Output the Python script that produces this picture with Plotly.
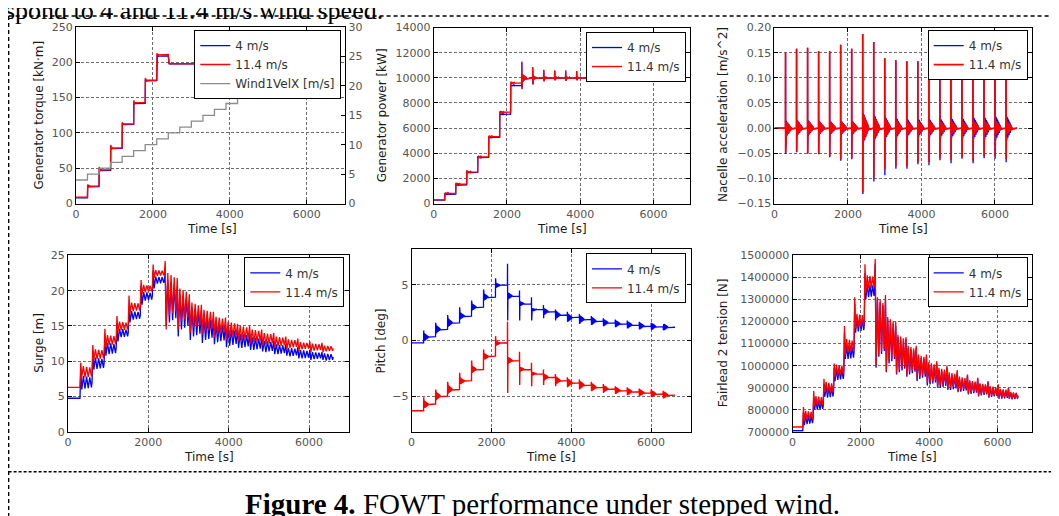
import plotly.graph_objects as go

W, H = 1059, 516

# ---- data ------------------------------------------------------------------
STEP_TIMES = [0, 300, 600, 900, 1200, 1500, 1800, 2100, 2400, 2700, 3000,
              3300, 3600, 3900, 4200, 4500, 4800, 5100, 5400, 5700, 6000, 6300]
T_END = 6600

WIND_SPEED = [4, 5, 6, 7, 8, 9, 10, 11, 12, 13, 14, 15, 16, 17, 18, 19, 20,
              21, 22, 23, 24, 25]

# generator torque [kN m]
TORQUE_4_LEVEL = [8, 24, 47, 78, 112, 142, 174, 209, 198, 198, 198, 198, 198,
                  198, 198, 198, 198, 198, 198, 198, 198, 198]
TORQUE_4_PEAK = [8, 26, 50, 81, 114, 144, 176, 210, 199, 198, 198, 198, 198,
                 198, 198, 198, 198, 198, 198, 198, 198, 198]
TORQUE_4_AMP = [0, 1, 1, 1, 1, 1, 1, 1, 0.5, 0, 0, 0, 0, 0, 0, 0, 0, 0, 0, 0, 0, 0]
TORQUE_11_LEVEL = [9, 25, 48, 79, 113, 143, 175, 211, 198, 198, 198, 198, 198,
                   198, 198, 198, 198, 198, 198, 198, 198, 198]
TORQUE_11_PEAK = [9, 27, 52, 83, 115, 146, 178, 213, 199, 198, 198, 198, 198,
                  198, 198, 198, 198, 198, 198, 198, 198, 198]
TORQUE_11_AMP = [0, 2, 2, 2, 1.5, 1.5, 1.5, 1.5, 0.5, 0, 0, 0, 0, 0, 0, 0, 0, 0,
                 0, 0, 0, 0]

# generator power [kW]
POWER_4_LEVEL = [266, 745, 1490, 2475, 3670, 5270, 7107, 9396, 10000, 10000,
                 10000, 10000, 10000, 10000, 10000, 10000, 10000, 10000, 10000,
                 10000, 10000, 10000]
POWER_4_PEAK = [266, 800, 1580, 2580, 3740, 5330, 7200, 9450, 11200, 10750,
                10600, 10550, 10500, 10500, 10450, 10450, 10400, 10400, 10400,
                10400, 10400, 10400]
POWER_4_TROUGH = [266, 745, 1490, 2475, 3670, 5270, 7107, 9396, 9150, 9500,
                  9750, 9800, 9750, 9800, 9850, 9850, 9850, 9850, 9850, 9850,
                  9850, 9850]
POWER_4_AMP = [0, 40, 50, 60, 50, 50, 60, 60, 300, 150, 120, 100, 100, 80, 80,
               60, 60, 60, 60, 60, 60, 60]
POWER_11_LEVEL = [290, 810, 1560, 2520, 3720, 5330, 7280, 9600, 10000, 10000,
                  10000, 10000, 10000, 10000, 10000, 10000, 10000, 10000, 10000,
                  10000, 10000, 10000]
POWER_11_PEAK = [290, 850, 1650, 2650, 3780, 5400, 7350, 9700, 11300, 10850,
                 10650, 10600, 10600, 10550, 10500, 10500, 10450, 10450, 10450,
                 10450, 10450, 10450]
POWER_11_TROUGH = [290, 810, 1560, 2520, 3720, 5330, 7280, 9600, 9100, 9450,
                   9700, 9800, 9750, 9800, 9850, 9850, 9850, 9850, 9850, 9850,
                   9850, 9850]
POWER_11_AMP = [0, 60, 70, 80, 60, 60, 80, 80, 300, 150, 120, 100, 100, 80, 80,
                60, 60, 60, 60, 60, 60, 60]

# nacelle acceleration [m/s^2]
ACC_LEVEL = [0] * 22
ACC_4_PEAK = [0, 0.150, 0.158, 0.160, 0.153, 0.153, 0.166, 0.158, 0.187, 0.171,
              0.139, 0.135, 0.133, 0.133, 0.13, 0.13, 0.13, 0.13, 0.13, 0.13,
              0.13, 0.13]
ACC_4_TROUGH = [0, -0.051, -0.048, -0.051, -0.052, -0.058, -0.065, -0.062,
                -0.131, -0.106, -0.094, -0.081, -0.081, -0.072, -0.074, -0.064,
                -0.070, -0.061, -0.070, -0.060, -0.061, -0.068]
ACC_4_AMP = [0, 0.016, 0.016, 0.016, 0.014, 0.014, 0.014, 0.014, 0.03, 0.026,
             0.022, 0.02, 0.018, 0.018, 0.018, 0.019, 0.02, 0.02, 0.022, 0.022,
             0.024, 0.024]
ACC_11_PEAK = [0, 0.150, 0.158, 0.160, 0.153, 0.153, 0.166, 0.158, 0.187, 0.171,
               0.139, 0.135, 0.133, 0.133, 0.13, 0.13, 0.13, 0.13, 0.13, 0.13,
               0.13, 0.13]
ACC_11_TROUGH = [0, -0.05, -0.047, -0.05, -0.05, -0.056, -0.062, -0.06, -0.128,
                 -0.098, -0.082, -0.076, -0.076, -0.068, -0.068, -0.06, -0.064,
                 -0.058, -0.065, -0.056, -0.057, -0.062]
ACC_11_AMP = [0, 0.014, 0.014, 0.014, 0.012, 0.012, 0.012, 0.012, 0.027, 0.022,
              0.018, 0.015, 0.013, 0.013, 0.013, 0.013, 0.013, 0.013, 0.014,
              0.014, 0.014, 0.014]

# surge [m]
SURGE_4_LEVEL = [4.76, 7.0, 9.7, 11.8, 14.0, 16.5, 19.2, 21.5, 18.5, 17.0,
                 15.5, 14.6, 14.0, 13.4, 12.9, 12.5, 12.1, 11.7, 11.3, 11.0,
                 10.8, 10.6]
SURGE_4_PEAK = [4.76, 8.5, 11.1, 13.5, 15.0, 17.8, 20.7, 22.8, 22.5, 20.5,
                18.5, 17.2, 16.0, 15.2, 14.5, 14.0, 13.4, 12.9, 12.4, 12.0,
                11.6, 11.3]
SURGE_4_TROUGH = [4.76, 6.0, 8.8, 10.8, 12.8, 15.5, 18.0, 20.3, 15.0, 13.5,
                  13.0, 12.6, 12.4, 12.0, 11.9, 11.6, 11.4, 11.0, 10.8, 10.4,
                  10.2, 10.2]
SURGE_4_AMP = [0, 0.9, 0.8, 0.8, 0.6, 0.6, 0.6, 0.5, 3.0, 2.5, 2.0, 1.6, 1.3,
               1.2, 1.0, 0.9, 0.8, 0.7, 0.6, 0.6, 0.5, 0.5]
SURGE_11_LEVEL = [6.3, 8.5, 11.0, 13.0, 15.0, 17.7, 20.3, 22.5, 19.5, 18.0,
                  16.5, 15.8, 15.1, 14.5, 14.0, 13.6, 13.2, 12.8, 12.5, 12.2,
                  12.0, 11.8]
SURGE_11_PEAK = [6.3, 9.8, 12.3, 14.6, 16.4, 19.3, 21.5, 23.7, 24.2, 21.8,
                 19.5, 18.0, 17.0, 16.2, 15.3, 15.0, 14.5, 14.0, 13.5, 13.2,
                 12.8, 12.6]
SURGE_11_TROUGH = [6.3, 7.8, 10.2, 12.0, 14.2, 16.8, 19.5, 21.8, 14.5, 14.5,
                   14.0, 13.8, 13.4, 13.0, 12.8, 12.5, 12.2, 11.9, 11.6, 11.4,
                   11.3, 11.3]
SURGE_11_AMP = [0, 0.8, 0.7, 0.7, 0.6, 0.6, 0.5, 0.4, 3.0, 2.3, 1.8, 1.5, 1.2,
                1.1, 1.0, 0.9, 0.8, 0.7, 0.6, 0.5, 0.5, 0.4]

# pitch [deg]
PITCH_4_LEVEL = [-0.2, 0.35, 1.0, 1.6, 2.2, 3.0, 3.9, 5.0, 4.0, 3.3, 2.8, 2.6,
                 2.3, 2.1, 1.9, 1.75, 1.6, 1.5, 1.4, 1.3, 1.25, 1.2]
PITCH_4_PEAK = [-0.2, 0.9, 1.6, 2.3, 3.0, 3.6, 4.6, 5.6, 6.9, 4.5, 3.9, 3.2,
                2.8, 2.6, 2.4, 2.2, 2.0, 1.9, 1.8, 1.7, 1.6, 1.5]
PITCH_4_TROUGH = [-0.2, 0.2, 0.8, 1.4, 2.0, 2.8, 3.7, 4.8, 1.8, 1.8, 1.8, 2.0,
                  1.8, 1.7, 1.5, 1.4, 1.3, 1.2, 1.1, 1.0, 1.0, 0.95]
PITCH_4_AMP = [0, 0.35, 0.35, 0.35, 0.3, 0.3, 0.3, 0.2, 0.3, 0.2, 0.15, 0.3,
               0.35, 0.35, 0.35, 0.35, 0.3, 0.3, 0.3, 0.3, 0.3, 0.3]
PITCH_11_LEVEL = [-6.3, -5.7, -5.0, -4.4, -3.6, -2.6, -1.4, -0.2, -1.8, -2.6,
                  -3.0, -3.3, -3.6, -3.8, -4.0, -4.2, -4.35, -4.5, -4.6, -4.7,
                  -4.8, -4.9]
PITCH_11_PEAK = [-6.3, -5.1, -4.4, -3.7, -2.9, -1.8, -0.8, 0.4, 1.7, -1.0,
                 -2.0, -2.6, -3.0, -3.3, -3.5, -3.7, -3.9, -4.1, -4.2, -4.3,
                 -4.4, -4.5]
PITCH_11_TROUGH = [-6.3, -5.9, -5.2, -4.6, -3.8, -2.8, -1.6, -0.3, -4.7, -4.0,
                   -4.1, -4.0, -4.1, -4.2, -4.4, -4.5, -4.7, -4.8, -4.9, -5.0,
                   -5.1, -5.2]
PITCH_11_AMP = [0, 0.35, 0.35, 0.35, 0.3, 0.3, 0.3, 0.2, 0.3, 0.2, 0.15, 0.3,
                0.35, 0.35, 0.35, 0.35, 0.3, 0.3, 0.3, 0.3, 0.3, 0.3]

# fairlead 2 tension [N]
TENSION_4_LEVEL = [705000, 755000, 820000, 880000, 960000, 1060000, 1185000,
                   1340000, 1170000, 1110000, 1050000, 1020000, 990000, 960000,
                   940000, 925000, 912000, 900000, 890000, 880000, 870000,
                   862000]
TENSION_4_PEAK = [705000, 790000, 860000, 915000, 990000, 1150000, 1280000,
                  1420000, 1460000, 1300000, 1180000, 1120000, 1080000,
                  1040000, 1010000, 990000, 970000, 955000, 940000, 925000,
                  910000, 895000]
TENSION_4_TROUGH = [705000, 730000, 800000, 860000, 930000, 1030000, 1150000,
                    1300000, 990000, 970000, 960000, 950000, 930000, 910000,
                    900000, 890000, 880000, 870000, 860000, 855000, 850000,
                    850000]
TENSION_4_AMP = [0, 20000, 20000, 25000, 25000, 30000, 30000, 30000, 130000,
                 100000, 80000, 60000, 50000, 45000, 40000, 35000, 30000,
                 28000, 25000, 22000, 20000, 15000]
TENSION_11_LEVEL = [722000, 775000, 840000, 900000, 980000, 1090000, 1205000,
                    1380000, 1180000, 1120000, 1060000, 1030000, 1000000,
                    970000, 950000, 935000, 920000, 905000, 895000, 885000,
                    875000, 865000]
TENSION_11_PEAK = [722000, 812000, 885000, 940000, 1010000, 1180000, 1310000,
                   1460000, 1483000, 1320000, 1200000, 1130000, 1090000,
                   1050000, 1020000, 1000000, 980000, 960000, 945000, 930000,
                   915000, 900000]
TENSION_11_TROUGH = [722000, 750000, 815000, 880000, 950000, 1050000, 1170000,
                     1330000, 995000, 975000, 965000, 960000, 940000, 920000,
                     905000, 895000, 885000, 875000, 865000, 858000, 852000,
                     850000]
TENSION_11_AMP = [0, 20000, 22000, 25000, 25000, 30000, 30000, 30000, 130000,
                  100000, 80000, 60000, 50000, 45000, 40000, 35000, 30000,
                  28000, 25000, 22000, 20000, 15000]

# ringing templates (shape only)
SLOW_RING = [1, -1, 0.9, -0.9, 0.8, -0.8]
FAST_RING = [1, -1, 0.9, -0.9, 0.8, -0.8, 0.7, -0.7, 0.6, -0.6, 0.5, -0.5,
             0.4, -0.4, 0.3, -0.3, 0.2, -0.2, 0.1, -0.1]
SHORT_RING = [1, -1, 0.7, -0.7, 0.5, -0.5, 0.3, -0.3]

BLUE, RED, GREY = "#0000ff", "#ff0000", "#8c8c8c"
TICK_FONT = dict(family="DejaVu Sans", size=11, color="#555555")
TITLE_FONT = dict(family="DejaVu Sans", size=12, color="#1a1a1a")


def step_series(levels, peaks, troughs, amps, t_peak, t_trough, ring, ring_dt):
    xs, ys = [STEP_TIMES[0]], [levels[0]]
    for k, t0 in enumerate(STEP_TIMES):
        t1 = STEP_TIMES[k + 1] if k + 1 < len(STEP_TIMES) else T_END
        t = t0
        if k > 0:
            xs += [t0, t0 + t_peak, t0 + t_trough]
            ys += [levels[k - 1], peaks[k], troughs[k]]
            t = t0 + t_trough
        for r in ring:
            t += ring_dt
            if t >= t1:
                break
            xs.append(t)
            ys.append(levels[k] + amps[k] * r)
        xs.append(t1)
        ys.append(levels[k])
    return xs, ys


# target screen pixel -> paper coordinate (the page shifts the figure a bit)
def fx(x):
    return (x - 8.4) / 0.995 / W


def fy(y):
    return 1 - (y - 5.9) / 1.003 / H


def axis(**kw):
    base = dict(
        showline=True, linecolor="black", linewidth=1, mirror="ticks",
        ticks="inside", ticklen=4, tickcolor="black", tickwidth=1,
        showgrid=True, gridcolor="#6e6e6e", griddash="3px,2px", gridwidth=0.8,
        zeroline=False, tickfont=TICK_FONT, automargin=False,
    )
    base.update(kw)
    return base


fig = go.Figure()

panels = [
    dict(x=(76, 344), y=(25, 202), yr=[0, 250], dt=50, leg=(340, 28)),
    dict(x=(432, 687), y=(25.5, 202), yr=[0, 14000], dt=2000, leg=(683, 30),
         fmt="d"),
    dict(x=(771, 1027), y=(25.5, 202), yr=[-0.15, 0.20], dt=0.05, leg=(1023, 28),
         fmt=".2f"),
    dict(x=(68, 348), y=(254, 431), yr=[0, 25], dt=5, leg=(343, 256)),
    dict(x=(410, 688), y=(248, 431), yr=[-8.2, 8.2], dt=5, leg=(683, 252)),
    dict(x=(789, 1027), y=(254, 431), yr=[700000, 1500000], dt=100000,
         leg=(1023, 256), fmt="d"),
]

layout = {}
for i, p in enumerate(panels, start=1):
    sfx = "" if i == 1 else str(i)
    layout[f"xaxis{sfx}"] = axis(domain=[fx(p["x"][0]), fx(p["x"][1])],
                                 range=[0, 7000], dtick=2000, tick0=0,
                                 anchor=f"y{sfx}")
    ykw = dict(domain=[fy(p["y"][1]), fy(p["y"][0])], range=p["yr"],
               dtick=p["dt"], anchor=f"x{sfx}")
    if "fmt" in p:
        ykw["tickformat"] = p["fmt"]
    if i == 1:
        ykw["mirror"] = True
    layout[f"yaxis{sfx}"] = axis(**ykw)
    layout["legend" + sfx] = dict(
        x=fx(p["leg"][0]), y=fy(p["leg"][1]), xanchor="right", yanchor="top",
        bgcolor="white", bordercolor="black", borderwidth=1,
        font=dict(family="DejaVu Sans", size=12, color="#333333"),
        tracegroupgap=0,
    )

layout["yaxis7"] = axis(overlaying="y", side="right", range=[0, 30], dtick=5,
                        showgrid=False, anchor="x", mirror=False,
                        domain=[fy(202), fy(25)])

series = [
    (1, TORQUE_4_LEVEL, TORQUE_4_PEAK, TORQUE_4_LEVEL, TORQUE_4_AMP,
     TORQUE_11_LEVEL, TORQUE_11_PEAK, TORQUE_11_LEVEL, TORQUE_11_AMP,
     (5, 10, SHORT_RING, 6), 1.4),
    (2, POWER_4_LEVEL, POWER_4_PEAK, POWER_4_TROUGH, POWER_4_AMP,
     POWER_11_LEVEL, POWER_11_PEAK, POWER_11_TROUGH, POWER_11_AMP,
     (5, 12, SHORT_RING, 14), 1.4),
    (3, ACC_LEVEL, ACC_4_PEAK, ACC_4_TROUGH, ACC_4_AMP,
     ACC_LEVEL, ACC_11_PEAK, ACC_11_TROUGH, ACC_11_AMP,
     (2, 5, FAST_RING, 8), 1.7),
    (4, SURGE_4_LEVEL, SURGE_4_PEAK, SURGE_4_TROUGH, SURGE_4_AMP,
     SURGE_11_LEVEL, SURGE_11_PEAK, SURGE_11_TROUGH, SURGE_11_AMP,
     (20, 45, SLOW_RING, 40), 1.3),
    (5, PITCH_4_LEVEL, PITCH_4_PEAK, PITCH_4_TROUGH, PITCH_4_AMP,
     PITCH_11_LEVEL, PITCH_11_PEAK, PITCH_11_TROUGH, PITCH_11_AMP,
     (3, 8, FAST_RING, 6), 1.4),
    (6, TENSION_4_LEVEL, TENSION_4_PEAK, TENSION_4_TROUGH, TENSION_4_AMP,
     TENSION_11_LEVEL, TENSION_11_PEAK, TENSION_11_TROUGH, TENSION_11_AMP,
     (20, 45, SLOW_RING, 40), 1.3),
]

for i, l4, p4, tr4, a4, l11, p11, tr11, a11, (tp, tt, ring, rdt), red_w in series:
    sfx = "" if i == 1 else str(i)
    for name, color, lw, lv, pk, tr, am in (
            ("4 m/s", BLUE, 1.3, l4, p4, tr4, a4),
            ("11.4 m/s", RED, red_w, l11, p11, tr11, a11)):
        xs, ys = step_series(lv, pk, tr, am, tp, tt, ring, rdt)
        fig.add_trace(go.Scatter(
            x=xs, y=ys, mode="lines", name=name,
            line=dict(color=color, width=lw),
            xaxis=f"x{sfx}", yaxis=f"y{sfx}", legend=f"legend{sfx}",
        ))

fig.add_trace(go.Scatter(
    x=STEP_TIMES + [T_END], y=WIND_SPEED + [WIND_SPEED[-1]], mode="lines",
    line=dict(color=GREY, width=1.3, shape="hv"), name="Wind1VelX [m/s]",
    xaxis="x", yaxis="y7", legend="legend",
))

titles = [
    (39, 113, "Generator torque [kN·m]", -90),
    (380, 113, "Generator power [kW]", -90),
    (720, 113, "Nacelle acceleration [m/s^2]", -90),
    (39, 342, "Surge [m]", -90),
    (380, 340, "Pitch [deg]", -90),
    (720, 342, "Fairlead 2 tension [N]", -90),
    (211, 228, "Time [s]", 0),
    (560, 228, "Time [s]", 0),
    (899, 228, "Time [s]", 0),
    (208, 456, "Time [s]", 0),
    (549, 456, "Time [s]", 0),
    (908, 456, "Time [s]", 0),
]
annotations = [
    dict(x=fx(x), y=fy(y), xref="paper", yref="paper", text=t,
         textangle=a, showarrow=False, font=TITLE_FONT,
         xanchor="center", yanchor="middle")
    for x, y, t, a in titles
]
annotations += [
    dict(x=fx(3), y=fy(25), xref="paper", yref="paper", xanchor="left",
         yanchor="bottom", showarrow=False,
         text="spond to 4 and 11.4 m/s wind speed.",
         font=dict(family="Liberation Serif", size=26, color="black")),
    dict(x=fx(540), y=fy(503), xref="paper", yref="paper",
         xanchor="center", yanchor="middle", showarrow=False,
         text="<b>Figure 4.</b> FOWT performance under stepped wind.",
         font=dict(family="Liberation Serif", size=29, color="black")),
]

frame = dict(color="black", width=1.5, dash="4px,3px")
shapes = [
    dict(type="line", xref="paper", yref="paper", x0=fx(9), x1=1,
         y0=fy(14), y1=fy(14), line=frame),
    dict(type="line", xref="paper", yref="paper", x0=fx(9), x1=fx(9),
         y0=fy(14), y1=0, line=frame),
    dict(type="line", xref="paper", yref="paper", x0=fx(9), x1=1,
         y0=fy(471), y1=fy(471),
         line=dict(color="black", width=1.5, dash="3px,2px")),
]

fig.update_layout(
    width=W, height=H, margin=dict(l=0, r=0, t=0, b=0),
    paper_bgcolor="white", plot_bgcolor="white", showlegend=True,
    annotations=annotations, shapes=shapes, **layout,
)

fig.write_html("out.html")
